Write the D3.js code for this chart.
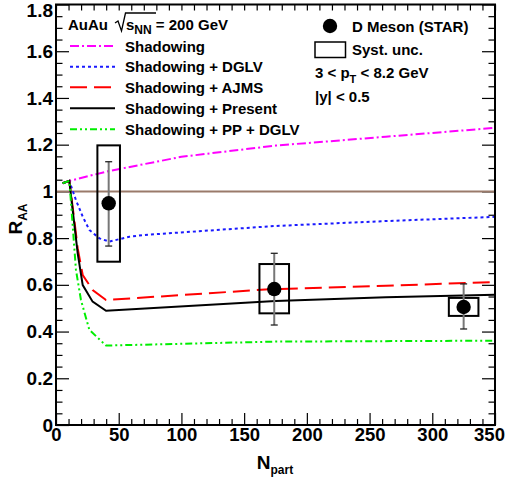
<!DOCTYPE html>
<html>
<head>
<meta charset="utf-8">
<script src="https://cdn.jsdelivr.net/npm/d3@7"></script>
<style>
  html, body { margin: 0; padding: 0; background: #fff; }
  svg { display: block; font-family: "Liberation Sans", Arial, Helvetica, sans-serif; font-weight: bold; }
</style>
</head>
<body>
<svg id="chart" width="509" height="482"></svg>
<script>
// ---- model curves: R_AA vs N_part ----
const nShadowing = [5.3, 10.6, 42, 100, 175, 263, 350];
const rShadowing = [1.035, 1.045, 1.087, 1.148, 1.196, 1.234, 1.272];

const nDGLV = [5.3, 10.6, 15.9, 21.3, 26.6, 34.6, 42.5, 58.5, 69, 175, 263, 350];
const rDGLV = [1.035, 1.045, 0.963, 0.892, 0.835, 0.799, 0.785, 0.806, 0.813, 0.852, 0.873, 0.891];

const nAJMS = [5.3, 10.6, 14.6, 17.3, 21.3, 29.2, 39.9, 170, 263, 350];
const rAJMS = [1.035, 1.045, 0.878, 0.756, 0.642, 0.578, 0.535, 0.581, 0.596, 0.612];

const nPresent = [5.3, 10.6, 14.6, 17.3, 21.3, 29.2, 39.9, 175, 263, 350];
const rPresent = [1.035, 1.045, 0.860, 0.735, 0.599, 0.528, 0.489, 0.531, 0.547, 0.558];

const nPPDGLV = [5.3, 10.6, 12, 15.9, 19.9, 26.6, 39.9, 175, 350];
const rPPDGLV = [1.035, 1.045, 0.949, 0.664, 0.535, 0.407, 0.340, 0.357, 0.361];

const curveLabels = ["Shadowing", "Shadowing + DGLV", "Shadowing + AJMS", "Shadowing + Present", "Shadowing + PP + DGLV"];

// ---- STAR D meson data ----
const dNpart = [42, 174, 325];
const dRaa = [0.949, 0.582, 0.505];
const dStatLow = [0.766, 0.428, 0.411];
const dStatHigh = [1.127, 0.735, 0.604];
const dSystLow = [0.699, 0.478, 0.467];
const dSystHigh = [1.197, 0.689, 0.544];
const dSystHalfWidth = [9, 11.8, 11.8];

// ---- axes ----
const xTicks = [0, 50, 100, 150, 200, 250, 300, 350];
const yTicks = [0, 0.2, 0.4, 0.6, 0.8, 1, 1.2, 1.4, 1.6, 1.8];
const xDomain = [0, 350];
const yDomain = [0, 1.8];
const referenceLevel = 1;

// ---- layout ----
const L = 56, R = 495, T = 4.5, B = 425;
const svg = d3.select("#chart");
const x = d3.scaleLinear().domain(xDomain).range([L, R]);
const y = d3.scaleLinear().domain(yDomain).range([B, T]);

svg.append("rect").attr("width", 509).attr("height", 482).attr("fill", "#fff");

const xMinor = d3.range(0, 351, 10).filter(v => v % 50 !== 0);
const yMinor = d3.range(0, 1.801, 0.05).map(v => +v.toFixed(2)).filter(v => Math.abs(v * 5 - Math.round(v * 5)) > 1e-6);

function styleAxis(g) {
  g.select(".domain").remove();
  g.selectAll(".tick line").attr("stroke", "#000").attr("stroke-width", 1.2);
  g.selectAll(".tick text").attr("fill", "#000").attr("font-family", "Liberation Sans, Arial, sans-serif")
    .attr("font-weight", "bold");
}

// bottom
svg.append("g").attr("transform", `translate(0,${B})`)
  .call(d3.axisBottom(x).tickValues(xTicks).tickSize(-12).tickPadding(3).tickFormat(d3.format("d")))
  .call(styleAxis)
  .call(g => g.selectAll(".tick text").attr("font-size", 18.5)
    .attr("dx", d => d === xDomain[1] ? -6 : 0));
svg.append("g").attr("transform", `translate(0,${B})`)
  .call(d3.axisBottom(x).tickValues(xMinor).tickSize(-6).tickFormat(""))
  .call(styleAxis);
// top
svg.append("g").attr("transform", `translate(0,${T})`)
  .call(d3.axisTop(x).tickValues(xTicks.concat(xMinor)).tickSize(-6).tickFormat(""))
  .call(styleAxis);
// left
svg.append("g").attr("transform", `translate(${L},0)`)
  .call(d3.axisLeft(y).tickValues(yTicks).tickSize(-13).tickPadding(3).tickFormat(d => String(+d.toFixed(1))))
  .call(styleAxis)
  .call(g => g.selectAll(".tick text").attr("font-size", 19)
    .attr("dy", d => d === yDomain[1] ? "0.62em" : "0.32em"));
svg.append("g").attr("transform", `translate(${L},0)`)
  .call(d3.axisLeft(y).tickValues(yMinor).tickSize(-6.5).tickFormat(""))
  .call(styleAxis);
// right
svg.append("g").attr("transform", `translate(${R},0)`)
  .call(d3.axisRight(y).tickValues(yTicks).tickSize(-13).tickFormat(""))
  .call(styleAxis);
svg.append("g").attr("transform", `translate(${R},0)`)
  .call(d3.axisRight(y).tickValues(yMinor).tickSize(-6.5).tickFormat(""))
  .call(styleAxis);

// unity reference line
svg.append("line")
  .attr("x1", x(xDomain[0])).attr("x2", x(xDomain[1]))
  .attr("y1", y(referenceLevel)).attr("y2", y(referenceLevel))
  .attr("stroke", "#9a7a6a").attr("stroke-width", 2);

// model curves
const curves = [
  { n: nShadowing, r: rShadowing, color: "#ff00ff", dash: "9,3,2,3" },
  { n: nDGLV, r: rDGLV, color: "#1a1aff", dash: "3,3" },
  { n: nAJMS, r: rAJMS, color: "#ff0000", dash: "17,7" },
  { n: nPresent, r: rPresent, color: "#000000", dash: null },
  { n: nPPDGLV, r: rPPDGLV, color: "#00ee00", dash: "7,3,2,3,2,3" }
];
const line = d3.line().x(d => x(d[0])).y(d => y(d[1]));
curves.forEach(c => {
  svg.append("path")
    .attr("d", line(d3.zip(c.n, c.r)))
    .attr("fill", "none").attr("stroke", c.color).attr("stroke-width", 2)
    .attr("stroke-dasharray", c.dash);
});

// systematic boxes
const pts = d3.range(dNpart.length).map(i => ({
  n: dNpart[i], r: dRaa[i], lo: dStatLow[i], hi: dStatHigh[i],
  slo: dSystLow[i], shi: dSystHigh[i], hw: dSystHalfWidth[i]
}));
svg.append("g").selectAll("rect").data(pts).join("rect")
  .attr("x", d => x(d.n - d.hw)).attr("width", d => x(d.n + d.hw) - x(d.n - d.hw))
  .attr("y", d => y(d.shi)).attr("height", d => y(d.slo) - y(d.shi))
  .attr("fill", "none").attr("stroke", "#000").attr("stroke-width", 2);

// statistical error bars
const eb = svg.append("g");
eb.selectAll("line.bar").data(pts).join("line").attr("class", "bar")
  .attr("x1", d => x(d.n)).attr("x2", d => x(d.n))
  .attr("y1", d => y(d.hi)).attr("y2", d => y(d.lo))
  .attr("stroke", "#777").attr("stroke-width", 2);
["hi", "lo"].forEach(k => {
  eb.selectAll("line.cap" + k).data(pts).join("line").attr("class", "cap" + k)
    .attr("x1", d => x(d.n) - 3.5).attr("x2", d => x(d.n) + 3.5)
    .attr("y1", d => y(d[k])).attr("y2", d => y(d[k]))
    .attr("stroke", "#222").attr("stroke-width", 1.3);
});

// markers
svg.append("g").selectAll("circle").data(pts).join("circle")
  .attr("cx", d => x(d.n)).attr("cy", d => y(d.r)).attr("r", 7.2).attr("fill", "#000");

// frame
svg.append("rect").attr("x", L).attr("y", T).attr("width", R - L).attr("height", B - T)
  .attr("fill", "none").attr("stroke", "#000").attr("stroke-width", 2);

// axis titles
svg.append("text").attr("x", 275).attr("y", 469).attr("text-anchor", "middle").attr("font-size", 19)
  .text("N").append("tspan").attr("font-size", 12).attr("dy", 5).text("part");
const yt = svg.append("text").attr("transform", "translate(22,219) rotate(-90)")
  .attr("text-anchor", "middle").attr("font-size", 19);
yt.append("tspan").text("R");
yt.append("tspan").attr("font-size", 12).attr("dy", 5).text("AA");

// legend: curves
const legY = [46, 66.7, 87.3, 108.3, 129.3];
curves.forEach((c, i) => {
  svg.append("line").attr("x1", 70).attr("x2", 115).attr("y1", legY[i]).attr("y2", legY[i])
    .attr("stroke", c.color).attr("stroke-width", 2).attr("stroke-dasharray", c.dash);
  svg.append("text").attr("x", 125).attr("y", legY[i] + 5.5).attr("font-size", 15).text(curveLabels[i]);
});

// collision system label
svg.append("text").attr("x", 68).attr("y", 30).attr("font-size", 15).text("AuAu");
svg.append("path").attr("d", "M115,23 L118,21 L121.5,31 L125.5,13 L156,13")
  .attr("fill", "none").attr("stroke", "#000").attr("stroke-width", 1.3);
const se = svg.append("text").attr("x", 126).attr("y", 30).attr("font-size", 15);
se.append("tspan").text("s");
se.append("tspan").attr("font-size", 12).attr("dy", 4).text("NN");
se.append("tspan").attr("dy", -4).text(" = 200 GeV");

// legend: data
svg.append("circle").attr("cx", 330).attr("cy", 26).attr("r", 7.2).attr("fill", "#000");
svg.append("text").attr("x", 352).attr("y", 31.5).attr("font-size", 15).text("D Meson (STAR)");
svg.append("rect").attr("x", 315).attr("y", 42).attr("width", 30.5).attr("height", 15.5)
  .attr("fill", "none").attr("stroke", "#000").attr("stroke-width", 1.5);
svg.append("text").attr("x", 352).attr("y", 55).attr("font-size", 15).text("Syst. unc.");
const pt = svg.append("text").attr("x", 315).attr("y", 78).attr("font-size", 15);
pt.append("tspan").text("3 < p");
pt.append("tspan").attr("font-size", 11).attr("dy", 5).text("T");
pt.append("tspan").attr("dy", -5).text(" < 8.2 GeV");
svg.append("text").attr("x", 315).attr("y", 101.5).attr("font-size", 15).text("|y| < 0.5");
</script>
</body>
</html>
